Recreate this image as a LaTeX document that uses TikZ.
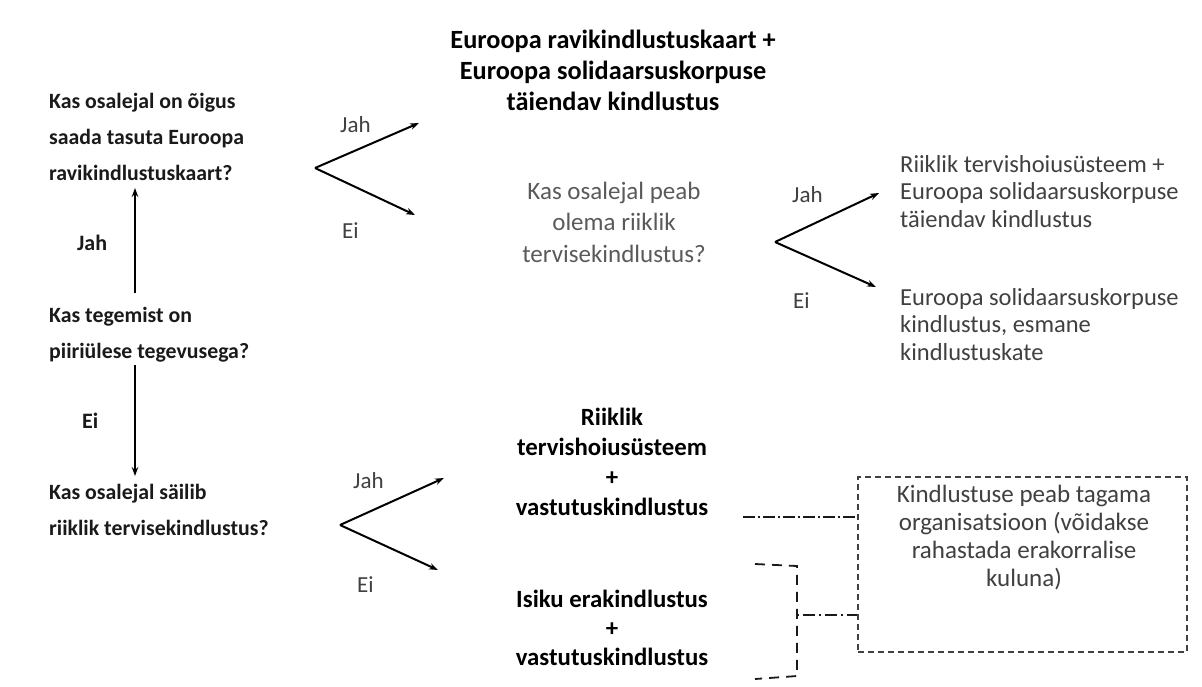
\documentclass[tikz,border=0pt]{standalone}
\usepackage{fontspec}
\setmainfont{Carlito}
\usetikzlibrary{arrows.meta}
\definecolor{txtdark}{HTML}{1A1A1A}
\definecolor{txtgray}{HTML}{5A5A5A}
\definecolor{txtmid}{HTML}{404040}
\tikzset{
  arr/.style={draw=black, line width=2pt, -{Stealth[length=9pt,width=6.5pt]}},
  qleft/.style={anchor=base west, inner sep=0pt, align=left, text=txtdark, font=\bfseries\fontsize{21.8}{36}\selectfont},
  lblb/.style={anchor=base west, inner sep=0pt, text=txtdark, font=\bfseries\fontsize{22}{26}\selectfont},
  lbl/.style={anchor=base west, inner sep=0pt, text=txtmid, font=\fontsize{23}{26}\selectfont},
  resbold/.style={anchor=base, inner sep=0pt, align=center, text=black, font=\bfseries\fontsize{24.8}{30}\selectfont},
  qmid/.style={anchor=base, inner sep=0pt, align=center, text=txtgray, font=\fontsize{25}{31.5}\selectfont},
  resright/.style={anchor=base west, inner sep=0pt, align=left, text=txtmid, font=\fontsize{24.5}{27.5}\selectfont},
  boxtxt/.style={anchor=base, inner sep=0pt, align=center, text=txtmid, font=\fontsize{25}{28}\selectfont},
  dbox/.style={draw=txtmid, line width=1.6pt, dash pattern=on 6pt off 4pt},
  dashdot/.style={draw=txtdark, line width=1.6pt, dash pattern=on 12pt off 3pt on 2pt off 3pt},
  brack/.style={draw=txtdark, line width=1.8pt, dash pattern=on 10pt off 7pt},
}
\begin{document}
\begin{tikzpicture}[x=1pt,y=-1pt]
\useasboundingbox[fill=white] (0,0) rectangle (1202,686);

% left questions (anchor base = baseline of last line)
\node[qleft] (q1) at (49,180) {Kas osalejal on õigus\\saada tasuta Euroopa\\ravikindlustuskaart?};
\node[qleft] (q2) at (49,358) {Kas tegemist on\\piiriülese tegevusega?};
\node[qleft] (q3) at (49,535) {Kas osalejal säilib\\riiklik tervisekindlustus?};

% vertical arrows
\coordinate (q2top) at (135,293);
\coordinate (q1bot) at (135,188);
\coordinate (q2bot) at (135,365);
\coordinate (q3top) at (135,476);
\draw[arr] (q2top) -- (q1bot);
\draw[arr] (q2bot) -- (q3top);
\node[lblb] (ljah) at (77,250) {Jah};
\node[lblb] (lei) at (82,428) {Ei};

% top V
\coordinate (v1) at (315,168);
\coordinate (v1u) at (419,123);
\coordinate (v1d) at (415,215);
\draw[arr] (v1) -- (v1u);
\draw[arr] (v1) -- (v1d);
\node[lbl] (jah1) at (340,132) {Jah};
\node[lbl] (ei1) at (342,238) {Ei};

\node[resbold, font=\bfseries\fontsize{26.3}{31}\selectfont] (r1) at (613,110) {Euroopa ravikindlustuskaart +\\Euroopa solidaarsuskorpuse\\täiendav kindlustus};
\node[qmid] (qm) at (614,262) {Kas osalejal peab\\olema riiklik\\tervisekindlustus?};

% right V
\coordinate (v2) at (775,242);
\coordinate (v2u) at (879,193);
\coordinate (v2d) at (876,287);
\draw[arr] (v2) -- (v2u);
\draw[arr] (v2) -- (v2d);
\node[lbl] (jah2) at (792,202) {Jah};
\node[lbl] (ei2) at (793,308) {Ei};

\node[resright] (r2) at (900,227) {Riiklik tervishoiusüsteem +\\Euroopa solidaarsuskorpuse\\täiendav kindlustus};
\node[resright] (r3) at (900,360) {Euroopa solidaarsuskorpuse\\kindlustus, esmane\\kindlustuskate};

% bottom V
\coordinate (v3) at (340,525);
\coordinate (v3u) at (444,478);
\coordinate (v3d) at (438,570);
\draw[arr] (v3) -- (v3u);
\draw[arr] (v3) -- (v3d);
\node[lbl] (jah3) at (353,488) {Jah};
\node[lbl] (ei3) at (357,592) {Ei};

\node[resbold] (r4) at (612,515) {Riiklik\\tervishoiusüsteem\\+\\vastutuskindlustus};
\node[resbold, font=\bfseries\fontsize{24.8}{29}\selectfont] (r5) at (612,665) {Isiku erakindlustus\\+\\vastutuskindlustus};

% dashed box
\node[dbox, minimum width=329pt, minimum height=175pt, inner sep=0pt] (box) at (1022.5,564.5) {};
\node[boxtxt] (boxt) at (1024,586) {Kindlustuse peab tagama\\organisatsioon (võidakse\\rahastada erakorralise\\kuluna)};

% connectors
\coordinate (c1) at (743,517);
\draw[dashdot] (c1) -- (c1 -| box.west);
\coordinate (b1) at (755,564);
\coordinate (b2) at (797,566);
\coordinate (b3) at (797,676);
\coordinate (b4) at (755,679);
\coordinate (bm) at (797,615);
\draw[brack] (b1) -- (b2) -- (b3) -- (b4);
\draw[dashdot, dash pattern=on 2pt off 4pt on 12pt off 4pt on 2pt off 4pt on 12pt off 4pt] (bm) -- (bm -| box.west);
\end{tikzpicture}
\end{document}
